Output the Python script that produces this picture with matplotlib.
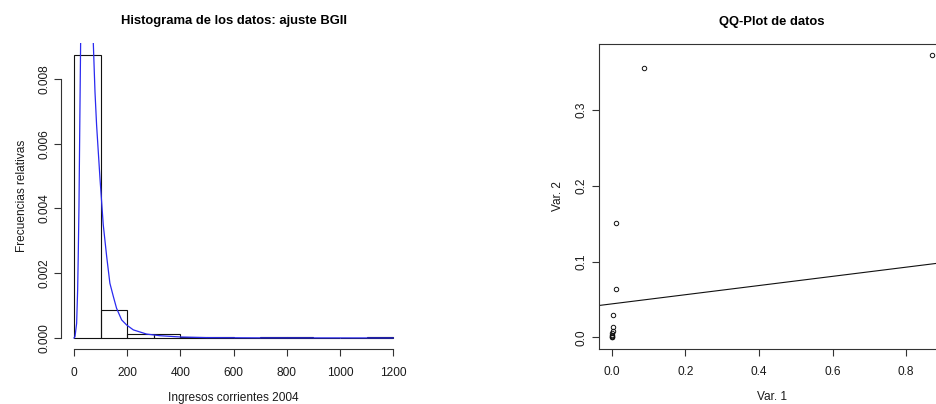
import matplotlib
matplotlib.use("Agg")
import matplotlib.pyplot as plt
import numpy as np

plt.rcParams['font.family'] = ['Liberation Sans', 'DejaVu Sans']

# ---- Data: histogram (left panel) ----
bin_edges = [0, 100, 200, 300, 400, 500, 600, 700, 800, 900, 1000, 1100, 1200]
bin_heights = [0.00875, 0.00087, 0.00012, 0.00012, 0.00002, 0.00002, 0.0,
               0.00002, 0.00002, 0.0, 0.0, 0.00002]

# fitted BGII density
curve_x = [0, 3.8, 10, 13.8, 16, 18.8, 22, 25, 35, 50, 65, 72.7, 79, 85, 91,
           98, 110, 123, 135, 148, 160, 179, 198, 223, 273, 323, 400, 500,
           700, 1200]
curve_y = [0, 0.00004, 0.00045, 0.00148, 0.0025, 0.00406, 0.0067, 0.0091,
           0.0125, 0.0135, 0.0115, 0.0091, 0.0076, 0.00658, 0.0058, 0.0049,
           0.0035, 0.00251, 0.00169, 0.00128, 0.00092, 0.00056, 0.0004,
           0.00025, 0.00012, 0.00007, 0.00003, 0.00001, 0.000003, 0.0]

hist_xticks = [0, 200, 400, 600, 800, 1000, 1200]
hist_yticks = [0.000, 0.002, 0.004, 0.006, 0.008]

# ---- Data: QQ plot (right panel) ----
qq_x = [0.8706, 0.0877, 0.0126, 0.0126, 0.0027, 0.0027, 0.0025, 0.0020,
        0.0015, 0.0010, 0.0005, 0.0003]
qq_y = [0.3724, 0.356, 0.151, 0.0646, 0.0294, 0.014, 0.0083, 0.006,
        0.003, 0.0015, 0.0008, 0.0002]
qq_intercept = 0.0443
qq_slope = 0.0606
qq_xticks = [0.0, 0.2, 0.4, 0.6, 0.8]
qq_yticks = [0.0, 0.1, 0.2, 0.3]

W, H = 936, 404
fig = plt.figure(figsize=(W / 100, H / 100), dpi=100)
fig.patch.set_facecolor('white')

txt = '#1a1a1a'
fs = 8.6
tfs = 9.4

def px_axes(x0, y0, x1, y1):
    return fig.add_axes([x0 / W, (H - y1) / H, (x1 - x0) / W, (y1 - y0) / H])

def r_extend(lo, hi):
    d = (hi - lo) * 0.04
    return lo - d, hi + d

# ---- Left panel ----
ax1 = px_axes(61.2, 43.3, 406, 349.3)
lefts = bin_edges[:-1]
widths = np.diff(bin_edges)
ax1.bar(lefts, bin_heights, width=widths, align='edge', fill=False,
        edgecolor='#111111', linewidth=0.8)
ax1.plot(curve_x, curve_y, color='#2a2af0', linewidth=0.9)
ax1.set_xlim(*r_extend(bin_edges[0], bin_edges[-1]))
ax1.set_ylim(*r_extend(0, max(bin_heights)))
ax1.spines['top'].set_visible(False)
ax1.spines['right'].set_visible(False)
ax1.spines['left'].set_bounds(hist_yticks[0], hist_yticks[-1])
ax1.spines['bottom'].set_bounds(hist_xticks[0], hist_xticks[-1])
ax1.set_xticks(hist_xticks)
ax1.set_xticklabels([str(v) for v in hist_xticks])
ax1.set_yticks(hist_yticks)
ax1.set_yticklabels(['%.3f' % v for v in hist_yticks], rotation=90, va='center')
ax1.set_title('Histograma de los datos: ajuste BGII', fontsize=tfs, fontweight='bold',
              color='black', pad=14)
ax1.set_xlabel('Ingresos corrientes 2004', fontsize=fs, color=txt, labelpad=9.6)
ax1.set_ylabel('Frecuencias relativas', fontsize=fs, color=txt, labelpad=7.2)

# ---- Right panel ----
ax2 = px_axes(599, 44, 945, 348.6)
ax2.plot(qq_x, qq_y, linestyle='none', marker='o', markersize=3.2,
         markerfacecolor='none', markeredgecolor='#111111', markeredgewidth=0.7)
xl = r_extend(min(qq_x), max(qq_x))
yl = r_extend(min(qq_y), max(qq_y))
ax2.set_xlim(*xl)
ax2.set_ylim(*yl)
ax2.axline((0, qq_intercept), slope=qq_slope, color='#111111', linewidth=0.8)
ax2.set_xticks(qq_xticks)
ax2.set_xticklabels(['%.1f' % v for v in qq_xticks])
ax2.set_yticks(qq_yticks)
ax2.set_yticklabels(['%.1f' % v for v in qq_yticks], rotation=90, va='center')
ax2.set_title('QQ-Plot de datos', fontsize=tfs, fontweight='bold', color='black', pad=14)
ax2.set_xlabel('Var. 1', fontsize=fs, color=txt, labelpad=9.6)
ax2.set_ylabel('Var. 2', fontsize=fs, color=txt, labelpad=8.5)

for ax in (ax1, ax2):
    ax.set_facecolor('white')
    ax.tick_params(direction='out', length=5, width=0.8, colors='#333333',
                   labelcolor=txt, labelsize=fs)
    ax.tick_params(axis='x', pad=7.4)
    ax.tick_params(axis='y', pad=3)
    for s in ax.spines.values():
        s.set_linewidth(0.8)
        s.set_color('#333333')

fig.savefig('out.png', dpi=100, facecolor='white')
